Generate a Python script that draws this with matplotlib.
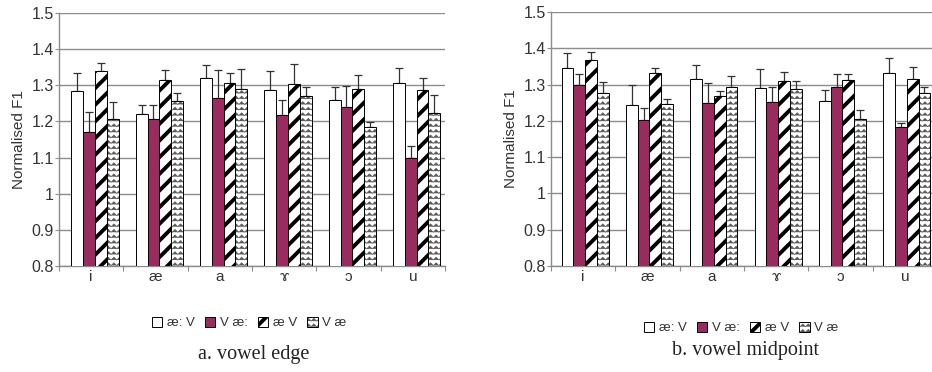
import warnings
import numpy as np
import matplotlib
matplotlib.use('Agg')
import matplotlib.pyplot as plt
import matplotlib.hatch as mhatch
from matplotlib.path import Path

warnings.filterwarnings('ignore')

# ---------------- data ----------------
categories = ['i', 'æ', 'a', 'ɤ', 'ɔ', 'u']
series_labels = ['æ: V', 'V æ:', 'æ V', 'V æ']

# a. vowel edge  (bar heights and top of error bars)
edge_aeL_V = [1.283, 1.221, 1.321, 1.286, 1.260, 1.307]
edge_aeL_V_top = [1.335, 1.246, 1.356, 1.339, 1.295, 1.349]
edge_V_aeL = [1.172, 1.206, 1.265, 1.217, 1.240, 1.098]
edge_V_aeL_top = [1.226, 1.246, 1.342, 1.258, 1.297, 1.131]
edge_ae_V = [1.340, 1.314, 1.306, 1.303, 1.289, 1.286]
edge_ae_V_top = [1.362, 1.342, 1.334, 1.358, 1.328, 1.321]
edge_V_ae = [1.207, 1.256, 1.291, 1.269, 1.184, 1.223]
edge_V_ae_top = [1.254, 1.280, 1.346, 1.295, 1.198, 1.272]

# b. vowel midpoint
mid_aeL_V = [1.345, 1.244, 1.316, 1.290, 1.256, 1.331]
mid_aeL_V_top = [1.388, 1.298, 1.355, 1.343, 1.284, 1.372]
mid_V_aeL = [1.299, 1.203, 1.249, 1.253, 1.293, 1.183]
mid_V_aeL_top = [1.329, 1.235, 1.303, 1.293, 1.329, 1.194]
mid_ae_V = [1.367, 1.332, 1.269, 1.309, 1.313, 1.315]
mid_ae_V_top = [1.389, 1.346, 1.283, 1.334, 1.329, 1.348]
mid_V_ae = [1.276, 1.247, 1.293, 1.288, 1.205, 1.276]
mid_V_ae_top = [1.306, 1.261, 1.323, 1.309, 1.231, 1.294]

panel_titles = ['a. vowel edge', 'b. vowel midpoint']
y_ticks = [0.8, 0.9, 1.0, 1.1, 1.2, 1.3, 1.4, 1.5]


# ---------------- custom zigzag hatch ----------------
class ZigZagHatch(mhatch.HatchPatternBase):
    def __init__(self, hatch, density):
        self.num_rows = int(hatch.count('z') * density)
        self.num_teeth = self.num_rows
        self.num_vertices = self.num_rows * (2 * self.num_teeth + 1)

    def set_vertices_and_codes(self, vertices, codes):
        n, m = self.num_rows, self.num_teeth
        npts = 2 * m + 1
        xs = np.linspace(0, 1, npts)
        amp = 0.5 / n
        odd = (np.arange(npts) % 2 == 1)
        k = 0
        for i in range(n):
            base = (i + 0.2) / n
            vertices[k:k + npts, 0] = xs
            vertices[k:k + npts, 1] = base + np.where(odd, amp, 0.0)
            codes[k] = Path.MOVETO
            codes[k + 1:k + npts] = Path.LINETO
            k += npts


mhatch._hatch_types.append(ZigZagHatch)

plt.rcParams['font.family'] = ['Liberation Sans', 'DejaVu Sans']

W, H = 932, 372
fig = plt.figure(figsize=(W / 100, H / 100), dpi=100)

styles = [
    dict(color='white', hatch=None, hlw=1.0, hcol=None),
    dict(color='#9a2b5f', hatch=None, hlw=1.0, hcol=None),
    dict(color='white', hatch='//', hlw=2.8, hcol=None),
    dict(color='white', hatch='zzz', hlw=0.5, hcol=(0.35, 0.35, 0.35, 1.0)),
]

panels = [
    ([edge_aeL_V, edge_V_aeL, edge_ae_V, edge_V_ae],
     [edge_aeL_V_top, edge_V_aeL_top, edge_ae_V_top, edge_V_ae_top]),
    ([mid_aeL_V, mid_V_aeL, mid_ae_V, mid_V_ae],
     [mid_aeL_V_top, mid_V_aeL_top, mid_ae_V_top, mid_V_ae_top]),
]

axes_px = [(59, 13, 386, 253), (551, 12, 386, 254)]
legend_y = [323, 328]
caption_y = [355, 350]
bar_offset = [0.06, 0.03]

grid_col = '#8c8c8c'
text_col = '#333333'
x = np.arange(len(categories))
bw = 0.183


def style_patch(patch, st):
    if hasattr(patch, 'set_hatch_linewidth'):
        patch.set_hatch_linewidth(st['hlw'])
    if st['hcol'] is not None:
        patch._hatch_color = st['hcol']


for p, ((means, tops), (lx, ty, wpx, hpx)) in enumerate(zip(panels, axes_px)):
    ax = fig.add_axes([lx / W, 1 - (ty + hpx) / H, wpx / W, hpx / H])
    handles = []
    for s, (vals, top) in enumerate(zip(means, tops)):
        vals = np.array(vals)
        top = np.array(top)
        pos = x + bar_offset[p] + (s - 1.5) * bw
        st = styles[s]
        bars = ax.bar(pos, vals - 0.8, bw, bottom=0.8, color=st['color'],
                      edgecolor='black', linewidth=0.7, hatch=st['hatch'],
                      zorder=3, label=series_labels[s])
        for b in bars:
            style_patch(b, st)
        ax.errorbar(pos, vals, yerr=[np.zeros_like(vals), top - vals],
                    fmt='none', ecolor='#333333', elinewidth=0.9,
                    capsize=2.6, capthick=0.9, zorder=2.5)
        handles.append(bars)

    ax.set_xlim(-0.5, len(categories) - 0.5)
    ax.set_ylim(0.8, 1.5)
    ax.set_yticks(y_ticks)
    ax.set_yticklabels([f'{v:g}' for v in y_ticks])
    ax.set_xticks(x)
    ax.set_xticklabels(categories)
    ax.set_xticks(np.arange(len(categories) + 1) - 0.5, minor=True)
    ax.tick_params(axis='x', which='major', length=0, pad=3,
                   labelsize=11, labelcolor=text_col)
    ax.tick_params(axis='x', which='minor', length=3.5, width=0.8,
                   color=grid_col, direction='out')
    ax.tick_params(axis='y', length=3, width=0.8, color=grid_col,
                   direction='out', labelsize=11.5, labelcolor=text_col, pad=0.8)
    ax.yaxis.grid(True, color=grid_col, linewidth=1.0)
    ax.set_axisbelow(True)
    for side in ['top', 'right']:
        ax.spines[side].set_visible(False)
    for side in ['left', 'bottom']:
        ax.spines[side].set_color(grid_col)
        ax.spines[side].set_linewidth(1.0)
    ax.set_ylabel('Normalised F1', fontsize=11, color=text_col, labelpad=4)

    cx = (lx + wpx / 2) / W
    leg = fig.legend(handles=handles, labels=series_labels,
                     loc='center', bbox_to_anchor=(cx - 0.003, 1 - legend_y[p] / H),
                     ncol=4, frameon=False, fontsize=9.5, handlelength=0.8,
                     handleheight=0.8, handletextpad=0.35, columnspacing=0.75,
                     borderpad=0.0)
    for t in leg.get_texts():
        t.set_color(text_col)
    for hp, st in zip(leg.get_patches(), styles):
        style_patch(hp, st)
    fig.text(cx + 0.002, 1 - caption_y[p] / H, panel_titles[p],
             ha='center', va='center', fontsize=14.5,
             family=['Liberation Serif', 'DejaVu Serif'], color='#222222')

fig.savefig('out.png', dpi=100)
